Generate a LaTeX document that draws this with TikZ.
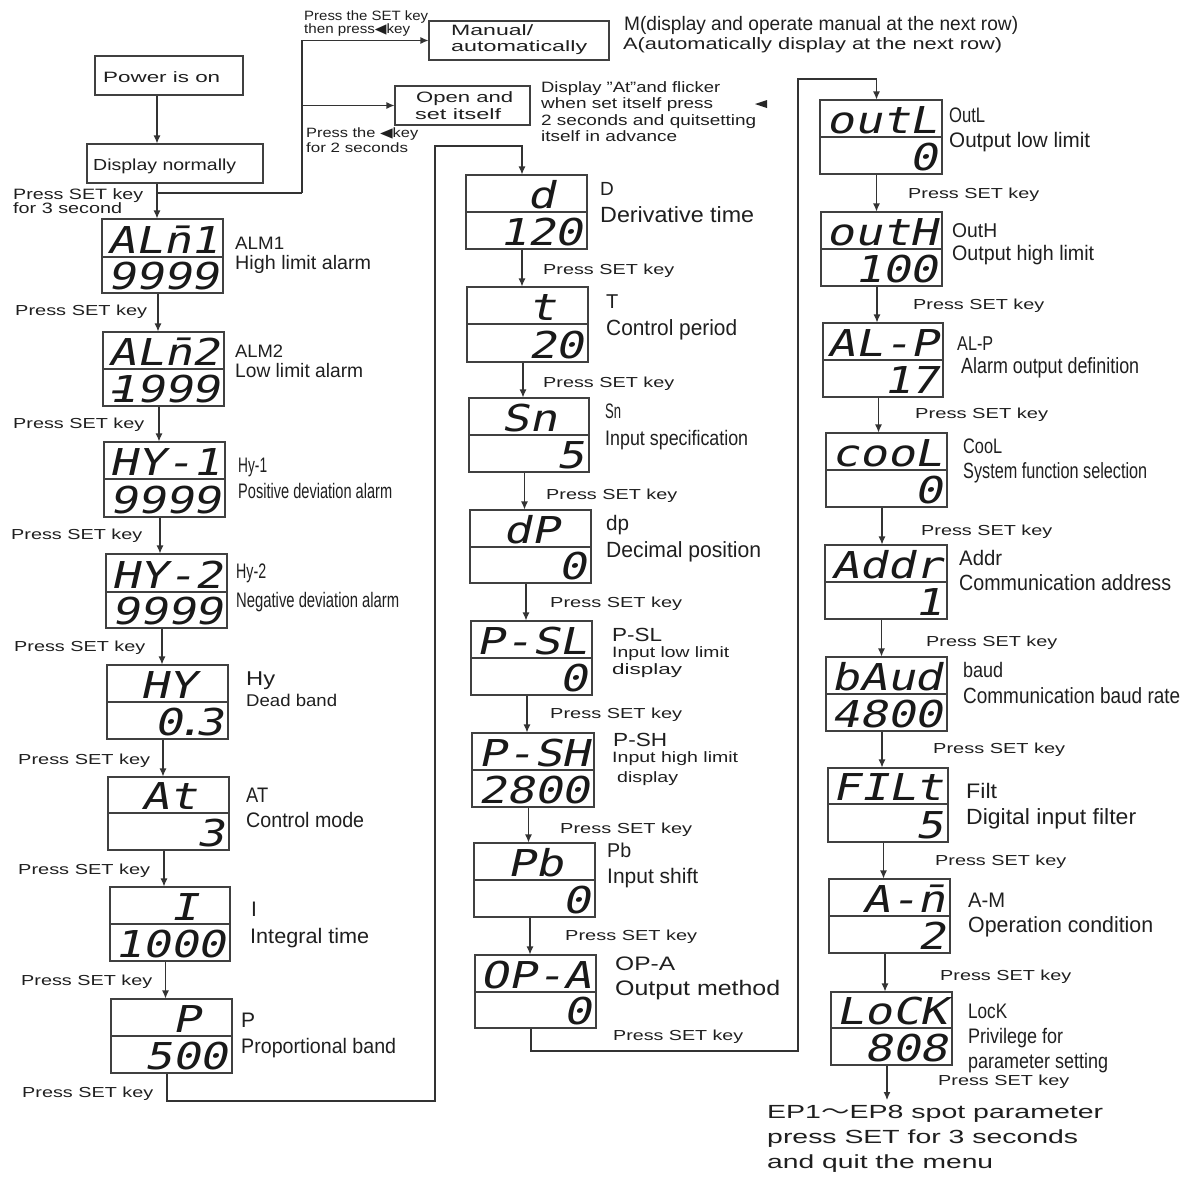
\documentclass[tikz,border=0pt]{standalone}
\usepackage{fontspec}
\usepackage{graphicx}
\setmainfont{Liberation Sans}
\newfontfamily\seg[FakeSlant=0.18]{DejaVu Sans Mono}
\newfontfamily\dejavu{DejaVu Sans}
\newfontfamily\cjkf{Noto Sans CJK SC}
\usetikzlibrary{arrows.meta}
\newcommand\fw[2]{\resizebox{#1pt}{\height}{#2}}
\newcommand\blk{\phantom{0}}
\tikzset{
 lbl/.style={inner sep=0pt, anchor=base west, text=black!88},
 dbox/.style={draw=black!75, line width=1.1pt, inner sep=0pt},
 dline/.style={draw=black!75, line width=1.1pt},
 seg/.style={inner sep=0pt, anchor=base east, font=\seg\fontsize{37}{37}\selectfont, text=black!90},
 arr/.style={draw=black!80, line width=1.1pt, -{Latex[length=8pt,width=7pt]}},
 ln/.style={draw=black!80, line width=1.1pt},
 fbox/.style={draw=black!75, line width=1.1pt, inner sep=0pt},
}
\newcommand\lbl[6]{\node[lbl,font=\fontsize{#4}{#4}\selectfont] (#1) at (#2,#3) {\fw{#5}{#6}};}
\newcommand\lbn[5]{\node[lbl,font=\fontsize{#4}{#4}\selectfont] (#1) at (#2,#3) {#5};}
\newcommand\disp[8]{%
 \node[dbox, minimum width={#4-#2}, minimum height={#5-#3}] (#1) at ({(#2+#4)/2},{(#3+#5)/2}) {};
 \draw[dline] (#1.west |- 0,#6) -- (#1.east |- 0,#6);
 \node[seg] (#1t) at ({#4-4},{#6-4}) {\smash{\scalebox{1.25}[1]{#7}}};
 \node[seg] (#1b) at ({#4-4},{#5-4}) {\smash{\scalebox{1.25}[1]{#8}}};
}
\newcommand\conn[2]{\draw[arr] ([xshift=-4.5pt]#1.south) -- ([xshift=-4.5pt]#1.south |- #2.north);}
\begin{document}
\begin{tikzpicture}[x=1pt,y=-1pt]
\fill[white] (0,0) rectangle (1189,1176);
\useasboundingbox (0,0) rectangle (1189,1176);

% ---- top area
\node[fbox, minimum width=148, minimum height=39] (power) at (169,75.5) {};
\lbl{powert}{103}{82}{15}{117}{Power is on}
\node[fbox, minimum width=176, minimum height=39] (dnorm) at (175,163.5) {};
\lbl{dnormt}{93}{170}{16}{143}{Display normally}
\lbl{p3a}{13}{199}{15}{130}{Press SET key}
\lbl{p3b}{13}{213}{15}{109}{for 3 second}
\node[fbox, minimum width=180, minimum height=39] (manual) at (519,40.5) {};
\lbl{manuala}{451}{35}{15}{82}{Manual/}
\lbl{manualb}{451}{51}{15}{136}{automatically}
\node[fbox, minimum width=135, minimum height=39] (open) at (462.5,105.5) {};
\lbl{opena}{416}{102}{15}{97}{Open and}
\lbl{openb}{415}{119}{15}{86}{set itself}
\lbl{tpa}{304}{20}{13.5}{124}{Press the SET key}
\lbl{tpb}{304}{33}{13.5}{106}{then press{\dejavu ◀}key}
\lbl{tpc}{306}{137}{13.5}{112}{Press the {\dejavu ◀}key}
\lbl{tpd}{306}{152}{13.5}{102}{for 2 seconds}
\lbl{ma}{624}{30}{19.5}{394}{M(display and operate manual at the next row)}
\lbl{mb}{623}{49}{16.5}{379}{A(automatically display at the next row)}
\lbl{fla}{541}{92}{15}{179}{Display \char"22 At\char"22 and flicker}
\lbl{flb}{541}{108}{15}{172}{when set itself press}
\lbl{flc}{541}{125}{15}{215}{2 seconds and quitsetting}
\lbl{fld}{541}{141}{15}{136}{itself in advance}
\fill[black!85] (767,100) -- (755,104) -- (767,108) -- cycle;

% ---- left column
\disp{alma}{102}{219}{223}{293}{257}{ALn̄1}{9999}
\disp{almb}{103}{332}{224}{406}{369}{ALn̄2}{\rlap{\kern-0.12em-}1999}
\disp{hya}{104}{442}{225}{517}{479}{HY-1}{9999}
\disp{hyb}{106}{554}{227}{628}{592}{HY-2}{9999}
\disp{hyc}{107}{665}{228}{739}{702}{HY\blk}{0\makebox[0.3em]{.}3}
\disp{atb}{108}{777}{229}{850}{813}{At\blk}{3}
\disp{ibox}{110}{887}{230}{961}{924}{I\blk}{1000}
\disp{pbox}{111}{999}{232}{1073}{1036}{P\blk}{500}

\lbl{la1}{235}{249}{18}{49}{ALM1}
\lbl{la2}{235}{269}{19.5}{136}{High limit alarm}
\lbl{lb1}{235}{357}{18}{48}{ALM2}
\lbl{lb2}{235}{377}{19.5}{128}{Low limit alarm}
\lbl{lc1}{238}{472}{21}{29}{Hy-1}
\lbl{lc2}{238}{498}{21}{154}{Positive deviation alarm}
\lbl{ld1}{236}{578}{21}{30}{Hy-2}
\lbl{ld2}{236}{607}{21}{163}{Negative deviation alarm}
\lbl{le1}{246}{685}{20}{29}{Hy}
\lbl{le2}{246}{706}{17}{91}{Dead band}
\lbl{lf1}{246}{802}{21}{22}{AT}
\lbl{lf2}{246}{827}{21}{118}{Control mode}
\lbn{lg1}{251}{916}{21}{I}
\lbl{lg2}{250}{943}{21}{119}{Integral time}
\lbn{lh1}{241}{1027}{21}{P}
\lbl{lh2}{241}{1053}{21}{155}{Proportional band}

\lbl{pa}{15}{315}{14.5}{132}{Press SET key}
\lbl{pb}{13}{428}{14.5}{131}{Press SET key}
\lbl{pc}{11}{539}{14.5}{131}{Press SET key}
\lbl{pd}{14}{651}{14.5}{131}{Press SET key}
\lbl{pe}{18}{764}{14.5}{132}{Press SET key}
\lbl{pf}{18}{874}{14.5}{132}{Press SET key}
\lbl{pg}{21}{985}{14.5}{131}{Press SET key}
\lbl{ph}{22}{1097}{14.5}{131}{Press SET key}

% ---- middle column
\disp{dbox}{466}{175}{587}{249}{212}{d\blk}{120}
\disp{tbox}{467}{287}{588}{362}{324}{t\blk}{20}
\disp{snbox}{469}{398}{589}{472}{435}{Sn\blk}{5}
\disp{dpbox}{470}{510}{591}{583}{547}{dP\blk}{0}
\disp{pslbox}{471}{621}{592}{695}{658}{P-SL}{0}
\disp{pshbox}{472}{733}{594}{807}{770}{P-SH}{2800}
\disp{pbbox}{474}{843}{595}{917}{880}{Pb\blk}{0}
\disp{opabox}{475}{955}{596}{1028}{992}{OP-A}{0}

\lbn{ma1}{600}{195}{19}{D}
\lbl{ma2}{600}{222}{22}{154}{Derivative time}
\lbn{mb1}{606}{308}{20}{T}
\lbl{mb2}{606}{335}{22}{131}{Control period}
\lbl{mc1}{605}{418}{21}{16}{Sn}
\lbl{mc2}{605}{445}{21}{143}{Input specification}
\lbl{md1}{606}{530}{21}{23}{dp}
\lbl{md2}{606}{557}{22}{155}{Decimal position}
\lbl{me1}{612}{641}{19}{50}{P-SL}
\lbl{me2}{612}{657}{15}{117}{Input low limit}
\lbl{me3}{612}{674}{15}{70}{display}
\lbl{mf1}{613}{746}{19}{54}{P-SH}
\lbl{mf2}{612}{762}{15}{126}{Input high limit}
\lbl{mf3}{617}{782}{15}{61}{display}
\lbl{mg1}{607}{857}{20}{24}{Pb}
\lbl{mg2}{607}{883}{21}{91}{Input shift}
\lbl{mh1}{615}{970}{19.5}{60}{OP-A}
\lbl{mh2}{615}{995}{21}{165}{Output method}

\lbl{qa}{543}{274}{14.5}{131}{Press SET key}
\lbl{qb}{543}{387}{14.5}{131}{Press SET key}
\lbl{qc}{546}{499}{14.5}{131}{Press SET key}
\lbl{qd}{550}{607}{14.5}{132}{Press SET key}
\lbl{qe}{550}{718}{14.5}{132}{Press SET key}
\lbl{qf}{560}{833}{14.5}{132}{Press SET key}
\lbl{qg}{565}{940}{14.5}{132}{Press SET key}
\lbl{qh}{613}{1040}{14.5}{130}{Press SET key}

% ---- right column
\disp{outlbox}{820}{100}{942}{174}{137}{outL}{0}
\disp{outhbox}{821}{212}{942}{286}{249}{outH}{100}
\disp{alpbox}{823}{323}{943}{397}{360}{AL-P}{17}
\disp{coolbox}{826}{433}{947}{507}{470}{cooL}{0}
\disp{addrbox}{825}{545}{947}{619}{582}{Addr}{1}
\disp{baudbox}{826}{657}{947}{731}{694}{bAud}{4800}
\disp{filtbox}{828}{768}{948}{842}{804}{FILt}{5}
\disp{ambox}{829}{879}{950}{953}{916}{A-n̄}{2}
\disp{lockbox}{831}{992}{952}{1065}{1028}{LoCK}{808}

\lbl{ra1}{949}{122}{21}{36}{OutL}
\lbl{ra2}{949}{147}{21}{141}{Output low limit}
\lbl{rb1}{952}{237}{20}{45}{OutH}
\lbl{rb2}{952}{260}{21}{142}{Output high limit}
\lbl{rc1}{957}{350}{20}{36}{AL-P}
\lbl{rc2}{961}{373}{22}{178}{Alarm output definition}
\lbl{rd1}{963}{453}{21}{39}{CooL}
\lbl{rd2}{963}{478}{22}{184}{System function selection}
\lbl{re1}{959}{565}{21}{43}{Addr}
\lbl{re2}{959}{590}{22}{212}{Communication address}
\lbl{rf1}{963}{677}{21}{40}{baud}
\lbl{rf2}{963}{703}{22}{217}{Communication baud rate}
\lbl{rg1}{966}{798}{21}{31}{Filt}
\lbl{rg2}{966}{824}{22}{170}{Digital input filter}
\lbl{rh1}{968}{907}{21}{37}{A-M}
\lbl{rh2}{968}{932}{22}{185}{Operation condition}
\lbl{ri1}{968}{1018}{21}{39}{LocK}
\lbl{ri2}{968}{1043}{21}{95}{Privilege for}
\lbl{ri3}{968}{1068}{21}{140}{parameter setting}

\lbl{sa}{908}{198}{14.5}{131}{Press SET key}
\lbl{sb}{913}{309}{14.5}{131}{Press SET key}
\lbl{sc}{915}{418}{14.5}{133}{Press SET key}
\lbl{sd}{921}{535}{14.5}{131}{Press SET key}
\lbl{se}{926}{646}{14.5}{131}{Press SET key}
\lbl{sf}{933}{753}{14.5}{132}{Press SET key}
\lbl{sg}{935}{865}{14.5}{131}{Press SET key}
\lbl{sh}{940}{980}{14.5}{131}{Press SET key}
\lbl{si}{938}{1085}{14.5}{131}{Press SET key}

\lbl{ep1}{767}{1118}{19}{336}{EP1{\cjkf ～}EP8 spot parameter}
\lbl{ep2}{767}{1143}{19}{311}{press SET for 3 seconds}
\lbl{ep3}{767}{1168}{19}{226}{and quit the menu}

% ---- connectors
\draw[arr] ([xshift=-12pt]power.south) -- ([xshift=-12pt]power.south |- dnorm.north);
\draw[arr] ([xshift=-18pt]dnorm.south) -- ([xshift=-18pt]dnorm.south |- alma.north);
\coordinate (br) at (157,193);
\coordinate (jn) at (302,193);
\draw[ln] (br) -- (jn);
\draw[arr] (jn) |- (manual.west);
\draw[arr] (jn |- open.west) -- (open.west);

\conn{alma}{almb}
\conn{almb}{hya}
\conn{hya}{hyb}
\conn{hyb}{hyc}
\conn{hyc}{atb}
\conn{atb}{ibox}
\conn{ibox}{pbox}

\coordinate (ca) at (435,1101);
\coordinate (cb) at (435,146);
\draw[arr] ([xshift=-4.5pt]pbox.south) |- (ca) -- (cb) -| ([xshift=-4.5pt]dbox.north);

\conn{dbox}{tbox}
\conn{tbox}{snbox}
\conn{snbox}{dpbox}
\conn{dpbox}{pslbox}
\conn{pslbox}{pshbox}
\conn{pshbox}{pbbox}
\conn{pbbox}{opabox}

\coordinate (cc) at (798,1051);
\coordinate (cd) at (798,79);
\draw[arr] ([xshift=-4.5pt]opabox.south) |- (cc) -- (cd) -| ([xshift=-4.5pt]outlbox.north);

\conn{outlbox}{outhbox}
\conn{outhbox}{alpbox}
\conn{alpbox}{coolbox}
\conn{coolbox}{addrbox}
\conn{addrbox}{baudbox}
\conn{baudbox}{filtbox}
\conn{filtbox}{ambox}
\conn{ambox}{lockbox}

\coordinate (epin) at (887,1100);
\draw[arr] ([xshift=-4.5pt]lockbox.south) -- (epin);
\end{tikzpicture}
\end{document}
